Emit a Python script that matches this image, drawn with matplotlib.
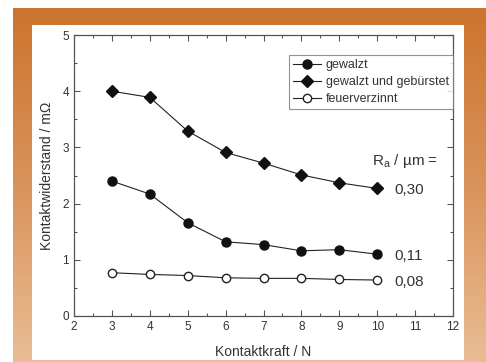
import matplotlib
matplotlib.use("Agg")
import matplotlib.pyplot as plt
import numpy as np
from matplotlib.colors import LinearSegmentedColormap
from matplotlib.patches import Rectangle
from matplotlib.ticker import MultipleLocator

plt.rcParams["font.family"] = ["Liberation Sans", "DejaVu Sans"]

# Kontaktkraft / N
kraft = [3, 4, 5, 6, 7, 8, 9, 10]
# Kontaktwiderstand / mOhm
gewalzt = [2.40, 2.17, 1.66, 1.32, 1.27, 1.16, 1.18, 1.10]
gebuerstet = [4.00, 3.89, 3.29, 2.91, 2.72, 2.51, 2.37, 2.27]
verzinnt = [0.77, 0.74, 0.72, 0.68, 0.67, 0.67, 0.65, 0.64]
ra_werte = ["0,30", "0,11", "0,08"]

W, H = 486, 362
fig = plt.figure(figsize=(W / 100, H / 100), dpi=100)

# Hintergrund: orangefarbener Rahmen mit Verlauf, weisses Feld
bg = fig.add_axes([0, 0, 1, 1])
bg.set_xlim(0, W)
bg.set_ylim(H, 0)
bg.axis("off")
cmap = LinearSegmentedColormap.from_list("rahmen", ["#cc742d", "#d9935a", "#eabd95"])
grad = np.linspace(0, 1, 256).reshape(-1, 1)
bg.imshow(grad, cmap=cmap, extent=[13, W, H, 8], aspect="auto")
bg.add_patch(Rectangle((32, 25), 432, 335, color="white", lw=0))

ax = fig.add_axes([74 / W, 1 - 316 / H, (453 - 74) / W, (316 - 35) / H])
txt = "#333333"
ax.plot(kraft, gewalzt, "-o", color="#222222", mfc="#111111", mec="#111111",
        ms=6.5, lw=0.8, label="gewalzt")
ax.plot(kraft, gebuerstet, "-D", color="#222222", mfc="#111111", mec="#111111",
        ms=6, lw=0.8, label="gewalzt und gebürstet")
ax.plot(kraft, verzinnt, "-o", color="#222222", mfc="white", mec="#222222",
        ms=6, mew=1.0, lw=0.8, label="feuerverzinnt")

ax.set_xlim(2, 12)
ax.set_ylim(0, 5)
ax.xaxis.set_major_locator(MultipleLocator(1))
ax.xaxis.set_minor_locator(MultipleLocator(0.5))
ax.yaxis.set_major_locator(MultipleLocator(1))
ax.yaxis.set_minor_locator(MultipleLocator(0.5))
ax.tick_params(which="both", direction="in", top=True, right=True,
               colors="#555555", labelcolor=txt, labelsize=8.5, width=0.8)
ax.tick_params(which="major", length=4)
ax.tick_params(which="minor", length=2.5)
for s in ax.spines.values():
    s.set_color("#555555")
    s.set_linewidth(0.9)

ax.set_xlabel("Kontaktkraft / N", fontsize=10, color=txt, labelpad=9)
ax.set_ylabel("Kontaktwiderstand / mΩ", fontsize=10, color=txt, labelpad=6)

leg = ax.legend(loc="upper right", bbox_to_anchor=(1.0, 0.93), fontsize=9,
                frameon=True, fancybox=False, edgecolor="#777777",
                borderpad=0.35, labelspacing=0.4, handlelength=2.2,
                handletextpad=0.4, borderaxespad=0)
leg.get_frame().set_linewidth(0.8)
for t in leg.get_texts():
    t.set_color(txt)

ax.text(9.85, 2.75, "R$_\\mathregular{a}$ / µm =", fontsize=11, color=txt,
        va="center")
for wert, serie in zip(ra_werte, [gebuerstet, gewalzt, verzinnt]):
    ax.text(10.45, serie[-1] - 0.03, wert, fontsize=11, color=txt,
            va="center")

fig.savefig("out.png", dpi=100)
